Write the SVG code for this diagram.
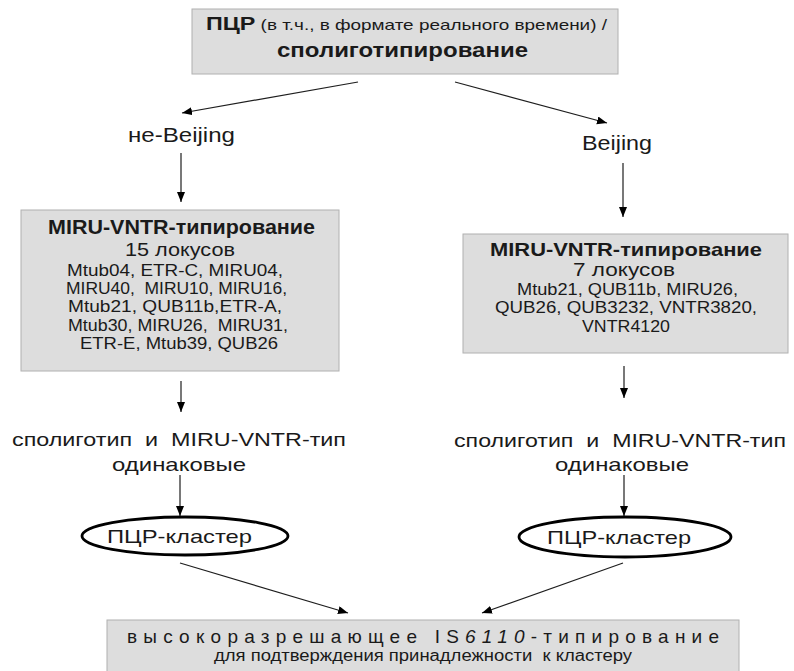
<svg xmlns="http://www.w3.org/2000/svg" width="794" height="671" viewBox="0 0 794 671">
<style>
text{font-family:"Liberation Sans",Arial,sans-serif;fill:#1a1a1a}
.b{font-weight:bold}
.box{fill:#dddddd;stroke:#b0b0b0;stroke-width:1}
.ell{fill:#ffffff;stroke:#000000;stroke-width:2.8}
.c{stroke:#1e1e1e;stroke-width:1.2;fill:none;marker-end:url(#ah)}
</style>
<defs>
<marker id="ah" markerUnits="userSpaceOnUse" markerWidth="11" markerHeight="9" refX="10" refY="4" orient="auto">
<path d="M0,0 L10,4 L0,8 z" fill="#000"/>
</marker>
</defs>
<rect width="794" height="671" fill="#ffffff"/>

<g id="connectors">
<line class="c" x1="358" y1="82" x2="182" y2="113"/>
<line class="c" x1="455" y1="82" x2="607" y2="123"/>
<line class="c" x1="181" y1="153" x2="181" y2="202"/>
<line class="c" x1="623" y1="163" x2="623" y2="217"/>
<line class="c" x1="181" y1="381" x2="181" y2="412"/>
<line class="c" x1="624" y1="366" x2="624" y2="398"/>
<line class="c" x1="180" y1="475" x2="180" y2="516"/>
<line class="c" x1="624" y1="475" x2="624" y2="516"/>
<line class="c" x1="180" y1="563" x2="348" y2="613"/>
<line class="c" x1="623" y1="563" x2="482" y2="613"/>
</g>

<g id="pcr-top">
<rect class="box" x="192" y="9" width="426" height="65"/>
<text x="206" y="30" font-size="15" textLength="401" lengthAdjust="spacingAndGlyphs"><tspan class="b" font-size="18.5">ПЦР</tspan> (в т.ч.,  в формате реального времени) /</text>
<text class="b" x="277" y="57" font-size="20" textLength="251" lengthAdjust="spacingAndGlyphs">сполиготипирование</text>
</g>

<g id="non-beijing">
<text x="128" y="142" font-size="21" textLength="107" lengthAdjust="spacingAndGlyphs">не-Beijing</text>
</g>

<g id="beijing">
<text x="582" y="150" font-size="21" textLength="70" lengthAdjust="spacingAndGlyphs">Beijing</text>
</g>

<g id="miru15">
<rect class="box" x="21" y="210" width="318" height="161"/>
<text class="b" x="48" y="234" font-size="19.5" textLength="267" lengthAdjust="spacingAndGlyphs">MIRU-VNTR-типирование</text>
<text x="125" y="256" font-size="18.5" textLength="110" lengthAdjust="spacingAndGlyphs">15 локусов</text>
<text x="67" y="275.5" font-size="17" textLength="216" lengthAdjust="spacingAndGlyphs">Mtub04, ETR-C, MIRU04,</text>
<text x="66" y="294" font-size="17" textLength="221" lengthAdjust="spacingAndGlyphs" xml:space="preserve">MIRU40,  MIRU10, MIRU16,</text>
<text x="68" y="312" font-size="17" textLength="214" lengthAdjust="spacingAndGlyphs">Mtub21, QUB11b,ETR-A,</text>
<text x="68" y="330.5" font-size="17" textLength="220" lengthAdjust="spacingAndGlyphs" xml:space="preserve">Mtub30, MIRU26,  MIRU31,</text>
<text x="80" y="349" font-size="17" textLength="198" lengthAdjust="spacingAndGlyphs">ETR-E, Mtub39, QUB26</text>
</g>

<g id="miru7">
<rect class="box" x="463" y="234" width="325" height="119"/>
<text class="b" x="490" y="256" font-size="19" textLength="272" lengthAdjust="spacingAndGlyphs">MIRU-VNTR-типирование</text>
<text x="573" y="276" font-size="18" textLength="102" lengthAdjust="spacingAndGlyphs">7 локусов</text>
<text x="517" y="295" font-size="17" textLength="221" lengthAdjust="spacingAndGlyphs">Mtub21, QUB11b, MIRU26,</text>
<text x="495" y="313" font-size="17" textLength="262" lengthAdjust="spacingAndGlyphs">QUB26, QUB3232, VNTR3820,</text>
<text x="582" y="332" font-size="17" textLength="88" lengthAdjust="spacingAndGlyphs">VNTR4120</text>
</g>

<g id="same-left">
<text x="12" y="446" font-size="19" textLength="334" lengthAdjust="spacingAndGlyphs" xml:space="preserve">сполиготип  и  MIRU-VNTR-тип</text>
<text x="112" y="471" font-size="19" textLength="134" lengthAdjust="spacingAndGlyphs">одинаковые</text>
</g>

<g id="same-right">
<text x="454" y="447" font-size="19" textLength="332" lengthAdjust="spacingAndGlyphs" xml:space="preserve">сполиготип  и  MIRU-VNTR-тип</text>
<text x="555" y="471" font-size="19" textLength="134" lengthAdjust="spacingAndGlyphs">одинаковые</text>
</g>

<g id="cluster-left">
<ellipse class="ell" cx="185" cy="536" rx="103" ry="19"/>
<text x="107" y="543" font-size="19" textLength="145" lengthAdjust="spacingAndGlyphs">ПЦР-кластер</text>
</g>

<g id="cluster-right">
<ellipse class="ell" cx="625" cy="537" rx="106" ry="20"/>
<text x="547" y="544" font-size="19" textLength="144" lengthAdjust="spacingAndGlyphs">ПЦР-кластер</text>
</g>

<g id="is6110">
<rect class="box" x="107" y="620" width="632" height="53"/>
<text x="127" y="643" font-size="19" textLength="592" lengthAdjust="spacing">высокоразрешающее IS<tspan font-style="italic">6110</tspan>-типирование</text>
<text x="214" y="661" font-size="16" textLength="418" lengthAdjust="spacingAndGlyphs" xml:space="preserve">для подтверждения принадлежности  к кластеру</text>
</g>
</svg>
